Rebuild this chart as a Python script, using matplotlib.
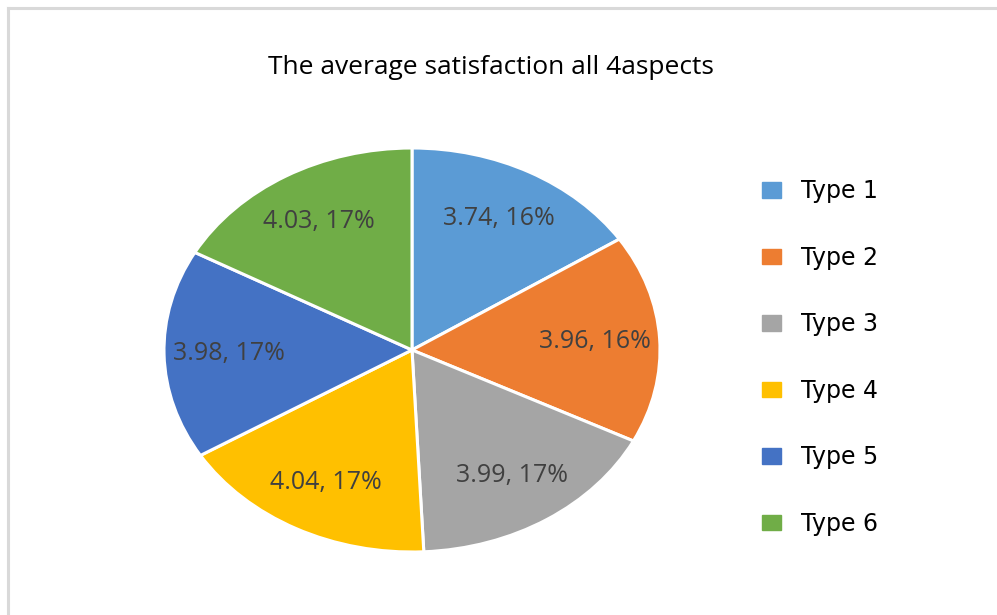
import matplotlib.pyplot as plt
from matplotlib.patches import Patch
from matplotlib.lines import Line2D

# average satisfaction per type
types = ["Type 1", "Type 2", "Type 3", "Type 4", "Type 5", "Type 6"]
scores = [3.74, 3.96, 3.99, 4.04, 3.98, 4.03]
shares = [16, 16, 17, 17, 17, 17]
colors = ["#5b9bd5", "#ed7d31", "#a5a5a5", "#ffc000", "#4472c4", "#70ad47"]

fig = plt.figure(figsize=(9.97, 6.15), dpi=100)

# light frame on top and left
fig.add_artist(Line2D([8/997, 8/997], [0, 1 - 8/615], color="#d9d9d9", lw=2.2))
fig.add_artist(Line2D([8/997, 1], [1 - 8/615, 1 - 8/615], color="#d9d9d9", lw=2.2))

fig.text(491/997, 1 - 68/615, "The average satisfaction all 4aspects",
         ha="center", va="center", fontsize=19, family="Open Sans", color="black")

# stretched pie (wider than tall)
ax = fig.add_axes([(412 - 248)/997, (615 - 552)/615, 496/997, 404/615])
labels = [f"{s:.2f}, {p}%" for s, p in zip(scores, shares)]
wedges, texts = ax.pie(scores, colors=colors, startangle=90, counterclock=False,
                       labels=labels, labeldistance=0.74,
                       wedgeprops=dict(edgecolor="white", linewidth=2.2),
                       textprops=dict(fontsize=18, color="#404040", family="Open Sans"))
for t in texts:
    t.set_ha("center")
    t.set_va("center")
ax.set_aspect("auto")
ax.set_xlim(-1, 1)
ax.set_ylim(-1, 1)
ax.axis("off")

handles = [Patch(facecolor=c, edgecolor=c) for c in colors]
fig.legend(handles, types, loc="upper left", bbox_to_anchor=(741/997, 1 - 158/615),
           frameon=False, labelspacing=1.8, handlelength=0.8,
           handleheight=0.65, handletextpad=0.85, prop=dict(family="DejaVu Sans", size=17))

fig.savefig("out.png", dpi=100, facecolor="white")
